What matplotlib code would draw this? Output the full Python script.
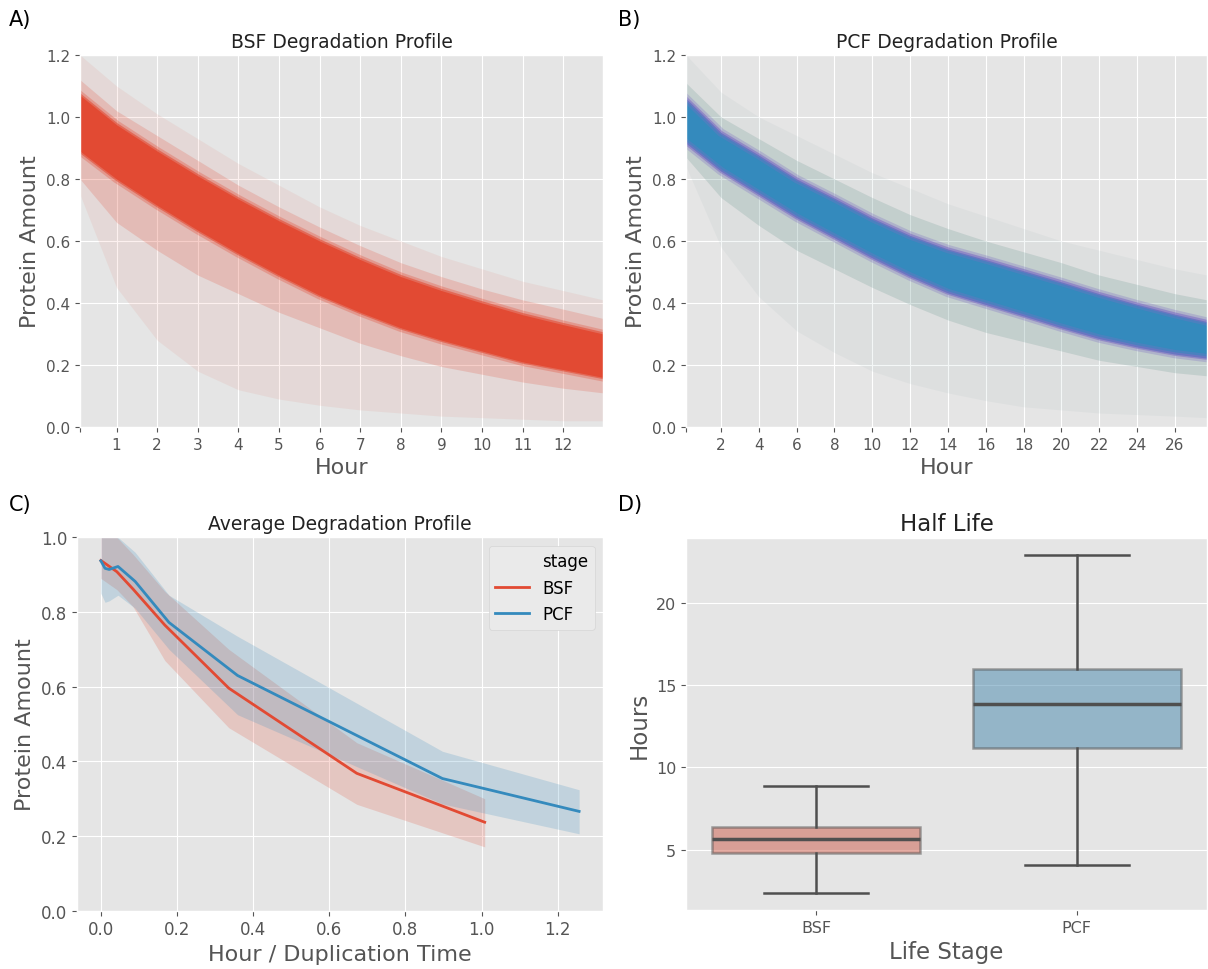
import matplotlib
matplotlib.use("Agg")
import matplotlib.pyplot as plt
from matplotlib.lines import Line2D

plt.style.use("ggplot")
plt.rcParams["font.family"] = ["DejaVu Sans"]

RED = "#E24A33"
BLUE = "#348ABD"

# --- panel A: BSF degradation band (values read at each hour) ---
hours_a = [0.1, 1, 2, 3, 4, 5, 6, 7, 8, 9, 10, 11, 12, 12.98]
core_top_a = [1.07, 0.975, 0.89, 0.81, 0.735, 0.665, 0.60, 0.54, 0.485, 0.44, 0.40, 0.362, 0.33, 0.30]
core_bot_a = [0.89, 0.80, 0.715, 0.635, 0.56, 0.49, 0.425, 0.37, 0.32, 0.28, 0.245, 0.21, 0.185, 0.16]
halo_top_a = [1.12, 1.02, 0.94, 0.86, 0.78, 0.71, 0.645, 0.585, 0.53, 0.485, 0.445, 0.41, 0.38, 0.35]
halo_bot_a = [0.80, 0.66, 0.57, 0.49, 0.43, 0.37, 0.32, 0.27, 0.23, 0.195, 0.17, 0.145, 0.125, 0.11]
faint_top_a = [1.2, 1.1, 1.01, 0.93, 0.85, 0.78, 0.71, 0.65, 0.6, 0.55, 0.51, 0.47, 0.44, 0.41]
faint_bot_a = [0.75, 0.45, 0.28, 0.18, 0.12, 0.09, 0.07, 0.055, 0.045, 0.035, 0.03, 0.025, 0.02, 0.02]

# --- panel B: PCF degradation band ---
hours_b = [0.15, 2, 4, 6, 8, 10, 12, 14, 16, 18, 20, 22, 24, 26, 27.7]
core_top_b = [1.06, 0.95, 0.877, 0.80, 0.738, 0.674, 0.618, 0.574, 0.54, 0.504, 0.468, 0.43, 0.396, 0.364, 0.34]
core_bot_b = [0.915, 0.825, 0.75, 0.675, 0.61, 0.545, 0.485, 0.432, 0.395, 0.358, 0.32, 0.285, 0.258, 0.235, 0.222]
halo_top_b = [1.11, 1.0, 0.93, 0.86, 0.80, 0.74, 0.685, 0.64, 0.60, 0.565, 0.53, 0.49, 0.46, 0.43, 0.41]
halo_bot_b = [0.87, 0.74, 0.65, 0.57, 0.51, 0.45, 0.395, 0.345, 0.305, 0.275, 0.245, 0.215, 0.195, 0.175, 0.165]
faint_top_b = [1.2, 1.08, 1.0, 0.94, 0.88, 0.82, 0.77, 0.72, 0.68, 0.64, 0.6, 0.57, 0.54, 0.51, 0.49]
faint_bot_b = [0.84, 0.58, 0.42, 0.31, 0.24, 0.18, 0.14, 0.11, 0.085, 0.065, 0.055, 0.045, 0.04, 0.035, 0.03]

# --- panel C: average profile with CI ---
bsf_x = [0.0, 0.042, 0.084, 0.168, 0.336, 0.672, 1.008]
bsf_mean = [0.938, 0.908, 0.862, 0.765, 0.596, 0.368, 0.237]
bsf_hi = [1.03, 1.0, 0.955, 0.855, 0.70, 0.45, 0.30]
bsf_lo = [0.89, 0.86, 0.815, 0.67, 0.49, 0.285, 0.171]

pcf_x = [0.0, 0.011, 0.022, 0.045, 0.09, 0.179, 0.359, 0.897, 1.256]
pcf_mean = [0.937, 0.917, 0.914, 0.922, 0.882, 0.772, 0.63, 0.354, 0.266]
pcf_hi = [1.02, 1.01, 1.0, 1.0, 0.96, 0.845, 0.735, 0.427, 0.324]
pcf_lo = [0.85, 0.826, 0.83, 0.845, 0.81, 0.70, 0.525, 0.286, 0.206]

# --- panel D: half life box stats ---
stages = ["BSF", "PCF"]
whis_lo = [2.35, 4.07]
q1 = [4.78, 11.2]
median = [5.65, 13.87]
q3 = [6.39, 15.98]
whis_hi = [8.84, 22.91]
box_colors = ["#cc5b49", "#4586ac"]

TICK = 11.5
LABEL = 16
TITLE = 13.5

fig = plt.figure(figsize=(12.08, 9.70), dpi=100)
ax_a = fig.add_axes([0.0662, 0.5588, 0.4330, 0.3835])
ax_b = fig.add_axes([0.5679, 0.5588, 0.4313, 0.3835])
ax_c = fig.add_axes([0.0637, 0.0601, 0.4355, 0.3849])
ax_d = fig.add_axes([0.5679, 0.0608, 0.4313, 0.3835])


def band_panel(ax, hours, layers, edge_color, core_color, title, ticks):
    faint, halo, core = layers
    ax.fill_between(hours, faint[0], faint[1], color=faint[2], alpha=0.08, lw=0)
    ax.fill_between(hours, halo[0], halo[1], color=halo[2], alpha=0.2, lw=0)
    ax.plot(hours, core[0], color=edge_color, lw=6, alpha=0.3)
    ax.plot(hours, core[1], color=edge_color, lw=6, alpha=0.3)
    ax.plot(hours, core[0], color=edge_color, lw=2.5, alpha=0.6)
    ax.plot(hours, core[1], color=edge_color, lw=2.5, alpha=0.6)
    ax.fill_between(hours, core[0], core[1], color=core_color, lw=0)
    ax.set_xlim(hours[0], hours[-1])
    ax.set_ylim(0, 1.2)
    ax.set_xticks([hours[0]] + ticks)
    ax.set_xticklabels([""] + [str(t) for t in ticks])
    ax.set_yticks([0.0, 0.2, 0.4, 0.6, 0.8, 1.0, 1.2])
    ax.tick_params(labelsize=TICK - 0.5)
    ax.set_title(title, fontsize=TITLE, color="#222222")
    ax.set_xlabel("Hour", fontsize=LABEL)
    ax.set_ylabel("Protein Amount", fontsize=LABEL)


band_panel(ax_a, hours_a,
           [(faint_bot_a, faint_top_a, RED), (halo_bot_a, halo_top_a, RED),
            (core_bot_a, core_top_a)],
           RED, RED, "BSF Degradation Profile", list(range(1, 13)))
band_panel(ax_b, hours_b,
           [(faint_bot_b, faint_top_b, "#7f9fa2"), (halo_bot_b, halo_top_b, "#5e8f88"),
            (core_bot_b, core_top_b)],
           "#7f6fc4", BLUE, "PCF Degradation Profile", list(range(2, 27, 2)))

# panel C
ax_c.fill_between(bsf_x, bsf_lo, bsf_hi, color=RED, alpha=0.2, lw=0)
ax_c.fill_between(pcf_x, pcf_lo, pcf_hi, color=BLUE, alpha=0.2, lw=0)
ax_c.plot(bsf_x, bsf_mean, color=RED, lw=2)
ax_c.plot(pcf_x, pcf_mean, color=BLUE, lw=2)
ax_c.set_ylim(0, 1.0)
ax_c.set_title("Average Degradation Profile", fontsize=TITLE, color="#222222")
ax_c.set_xlabel("Hour / Duplication Time", fontsize=LABEL)
ax_c.set_ylabel("Protein Amount", fontsize=LABEL)
ax_c.tick_params(labelsize=TICK + 0.5)
handles = [Line2D([], [], color="none"),
           Line2D([], [], color=RED, lw=2),
           Line2D([], [], color=BLUE, lw=2)]
leg = ax_c.legend(handles, ["stage"] + stages, loc="upper right", fontsize=12,
                  facecolor="#EAEAEA", edgecolor="#D5D5D5", framealpha=1)

# panel D
stats = []
for i, s in enumerate(stages):
    stats.append(dict(label=s, whislo=whis_lo[i], q1=q1[i], med=median[i],
                      q3=q3[i], whishi=whis_hi[i], fliers=[]))
line_kw = dict(color="#4f4f4f", lw=1.8)
res = ax_d.bxp(stats, positions=[0, 1], widths=0.8, patch_artist=True,
               showfliers=False, capwidths=0.4,
               boxprops=dict(edgecolor="#4f4f4f", lw=1.8),
               whiskerprops=line_kw, capprops=line_kw,
               medianprops=dict(color="#4f4f4f", lw=2.5))
for patch, c in zip(res["boxes"], box_colors):
    patch.set_facecolor(c)
    patch.set_alpha(0.5)
ax_d.set_xlim(-0.5, 1.5)
ax_d.margins(y=0.05)
ax_d.xaxis.grid(False)
ax_d.set_yticks([5, 10, 15, 20])
ax_d.tick_params(labelsize=TICK)
ax_d.set_title("Half Life", fontsize=16.5, color="#222222")
ax_d.set_xlabel("Life Stage", fontsize=16.5)
ax_d.set_ylabel("Hours", fontsize=16.5)

for txt, x, y in [("A)", 0.007, 0.99), ("B)", 0.512, 0.99),
                  ("C)", 0.007, 0.49), ("D)", 0.512, 0.49)]:
    fig.text(x, y, txt, fontsize=15, va="top", ha="left")

fig.savefig("out.png", dpi=100)
